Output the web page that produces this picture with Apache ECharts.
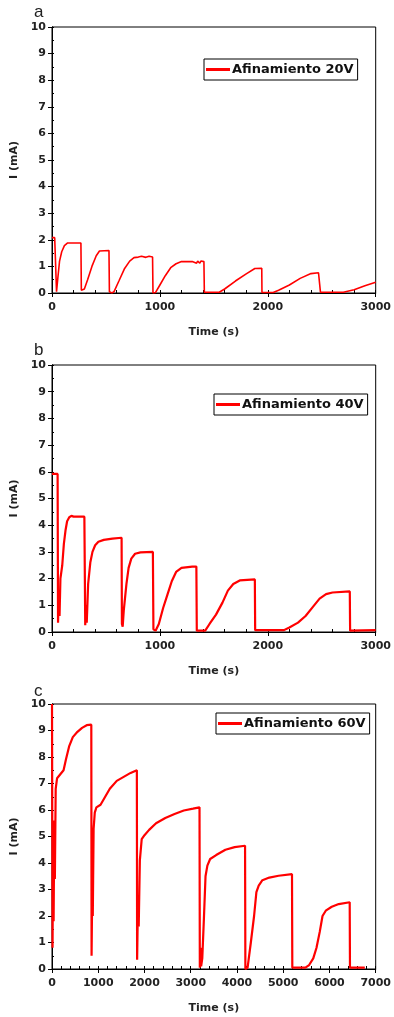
<!DOCTYPE html>
<html>
<head>
<meta charset="utf-8">
<script src="https://cdn.jsdelivr.net/npm/echarts@6/dist/echarts.min.js"></script>
<style>
html,body{margin:0;padding:0;background:#fff;}
#chart{width:394px;height:1017px;}
</style>
</head>
<body>
<div id="chart"></div>
<script>
// ---- data ----
var panelLabels = ['a', 'b', 'c'];
var seriesNames = ['Afinamiento 20V', 'Afinamiento 40V', 'Afinamiento 60V'];
var xMaxes = [3000, 3000, 7000];
var yTicks = ['0','1','2','3','4','5','6','7','8','9','10'];

var timeA = [0,25,38,42,55,70,90,115,145,268,272,300,330,370,410,440,528,532,555,575,620,670,720,760,800,830,870,900,932,936,960,1000,1050,1100,1150,1200,1300,1340,1350,1370,1380,1408,1412,1550,1600,1700,1800,1880,1944,1946,2050,2100,2200,2300,2400,2470,2480,2486,2488,2700,2800,2900,3000];
var currA = [2.08,2.08,2.05,0.05,0.6,1.2,1.55,1.78,1.88,1.88,0.1,0.15,0.5,1.0,1.4,1.58,1.6,0.05,0.0,0.05,0.45,0.9,1.2,1.33,1.35,1.38,1.34,1.38,1.35,0.0,0.02,0.3,0.65,0.95,1.1,1.18,1.18,1.12,1.2,1.12,1.2,1.18,0.03,0.03,0.15,0.45,0.72,0.92,0.93,0.02,0.02,0.1,0.3,0.55,0.73,0.76,0.8,0.76,0.03,0.03,0.12,0.27,0.4];

var timeB = [0,52,56,63,70,78,95,110,125,140,160,180,200,300,304,308,315,322,335,355,375,400,430,480,560,645,648,655,665,690,710,735,770,820,935,940,960,990,1030,1070,1110,1150,1200,1300,1338,1342,1420,1460,1520,1580,1630,1680,1740,1880,1883,2150,2200,2280,2350,2420,2480,2540,2600,2760,2763,3000];
var currB = [5.92,5.92,0.35,1.5,0.6,2.0,2.5,3.3,3.8,4.15,4.3,4.35,4.32,4.32,4.3,0.25,1.0,0.35,1.8,2.6,3.0,3.25,3.38,3.45,3.5,3.53,0.3,0.2,0.8,1.8,2.4,2.75,2.93,2.98,3.0,0.1,0.05,0.3,0.9,1.4,1.9,2.25,2.4,2.45,2.45,0.05,0.05,0.3,0.65,1.1,1.55,1.8,1.93,1.97,0.07,0.07,0.17,0.35,0.6,0.95,1.25,1.42,1.48,1.52,0.05,0.07];

var timeC = [0,12,25,35,50,62,80,110,180,250,300,370,450,550,650,750,850,856,866,874,882,900,925,960,1050,1150,1250,1400,1550,1700,1835,1841,1860,1875,1900,1940,2000,2100,2250,2450,2650,2850,3050,3190,3197,3210,3225,3250,3285,3320,3360,3420,3550,3750,3950,4175,4182,4230,4300,4370,4420,4470,4550,4700,4900,5190,5197,5480,5560,5650,5720,5790,5850,5920,6050,6200,6438,6444,6765];
var currC = [10,0.8,5.5,1.8,5.6,3.4,6.8,7.2,7.35,7.5,7.9,8.4,8.75,8.95,9.1,9.2,9.22,0.5,0.5,3.7,2.0,5.3,5.9,6.1,6.2,6.5,6.8,7.1,7.25,7.4,7.5,0.35,2.7,1.6,4.1,4.9,5.05,5.25,5.5,5.7,5.85,5.98,6.05,6.1,0.05,0.8,0.1,0.4,1.9,3.5,3.9,4.15,4.3,4.5,4.6,4.65,0.0,0.05,1.0,2.0,2.9,3.15,3.35,3.45,3.52,3.58,0.05,0.05,0.15,0.4,0.8,1.4,2.0,2.2,2.35,2.45,2.52,0.05,0.05];

var times = [timeA, timeB, timeC];
var currents = [currA, currB, currC];

// ---- layout ----
var gridTops = [27, 365, 704];
var gridHeights = [266, 267, 265];
var lineWidths = [1.6, 2.2, 2.2];
var legendPos = [[204, 59], [214, 394], [216, 713]];
var labelTops = [4, 342, 683];

var FONT = 'DejaVu Sans';
var grids = [], xAxes = [], yAxes = [], series = [], legends = [], titles = [];

for (var i = 0; i < 3; i++) {
  grids.push({left: 52, width: 327, top: gridTops[i], height: gridHeights[i],
    show: true, borderColor: '#000', borderWidth: 1, backgroundColor: 'transparent'});
  var base = {type: 'value', gridIndex: i, min: 0, max: xMaxes[i]};
  xAxes.push(Object.assign({}, base, {
    position: 'bottom', interval: 1000,
    name: 'Time (s)', nameLocation: 'middle', nameGap: 34,
    nameTextStyle: {fontFamily: FONT, fontWeight: 'bold', fontSize: 11, color: '#222'},
    axisLine: {show: true, lineStyle: {color: '#000', width: 1}},
    axisTick: {show: true, inside: false, length: 4, lineStyle: {color: '#000'}},
    axisLabel: {show: true, fontFamily: FONT, fontWeight: 'bold', fontSize: 11, color: '#222', margin: 9,
      formatter: function (v) { return String(v); }},
    splitLine: {show: false}
  }));
  xAxes.push(Object.assign({}, base, {
    position: 'bottom', interval: 200,
    axisLine: {show: false},
    axisTick: {show: true, inside: true, length: 3, lineStyle: {color: '#000'}},
    axisLabel: {show: false}, splitLine: {show: false}
  }));
  xAxes.push(Object.assign({}, base, {
    position: 'top', interval: 1000,
    axisLine: {show: true, lineStyle: {color: '#000'}},
    axisTick: {show: true, inside: true, length: 4, lineStyle: {color: '#000'}},
    axisLabel: {show: false}, splitLine: {show: false}
  }));

  var ybase = {type: 'value', gridIndex: i, min: 0, max: 10};
  yAxes.push(Object.assign({}, ybase, {
    position: 'left', interval: 1,
    name: 'I (mA)', nameLocation: 'middle', nameGap: 23,
    nameTextStyle: {fontFamily: FONT, fontWeight: 'bold', fontSize: 11, color: '#222'},
    axisLine: {show: true, lineStyle: {color: '#000'}},
    axisTick: {show: true, inside: false, length: 4, lineStyle: {color: '#000'}},
    axisLabel: {show: true, fontFamily: FONT, fontWeight: 'bold', fontSize: 11, color: '#222', margin: 6,
      formatter: function (v) { return yTicks[Math.round(v)]; }},
    splitLine: {show: false}
  }));
  yAxes.push(Object.assign({}, ybase, {
    position: 'left', interval: 0.5,
    axisLine: {show: false},
    axisTick: {show: true, inside: true, length: 2, lineStyle: {color: '#000'}},
    axisLabel: {show: false}, splitLine: {show: false}
  }));
  yAxes.push(Object.assign({}, ybase, {
    position: 'right', interval: 1,
    axisLine: {show: true, lineStyle: {color: '#000'}},
    axisTick: {show: true, inside: true, length: 4, lineStyle: {color: '#000'}},
    axisLabel: {show: false}, splitLine: {show: false}
  }));

  var d = [];
  for (var k = 0; k < times[i].length; k++) d.push([times[i][k], currents[i][k]]);
  series.push({
    name: seriesNames[i], type: 'line', xAxisIndex: i * 3, yAxisIndex: i * 3,
    data: d, showSymbol: false, symbol: 'none', animation: false,
    lineStyle: {color: '#ff0000', width: lineWidths[i]}, itemStyle: {color: '#ff0000'}
  });

  legends.push({
    data: [seriesNames[i]], left: legendPos[i][0], top: legendPos[i][1],
    orient: 'horizontal', icon: 'rect', itemWidth: 24, itemHeight: 3, itemGap: 2,
    padding: [4, 4, 4, 2], borderColor: '#000', borderWidth: 1, backgroundColor: '#fff',
    selectedMode: false,
    textStyle: {fontFamily: FONT, fontWeight: 'bold', fontSize: 13, color: '#111', padding: [0, 0, 0, -3]}
  });

  titles.push({text: panelLabels[i], left: 34, top: labelTops[i], padding: 0,
    textStyle: {fontFamily: 'Liberation Sans', fontWeight: 'normal', fontSize: 17, color: '#222'}});
}

var chart = echarts.init(document.getElementById('chart'), null, {renderer: 'canvas'});
chart.setOption({
  animation: false,
  backgroundColor: '#fff',
  title: titles,
  grid: grids,
  xAxis: xAxes,
  yAxis: yAxes,
  legend: legends,
  series: series
});
</script>
</body>
</html>
